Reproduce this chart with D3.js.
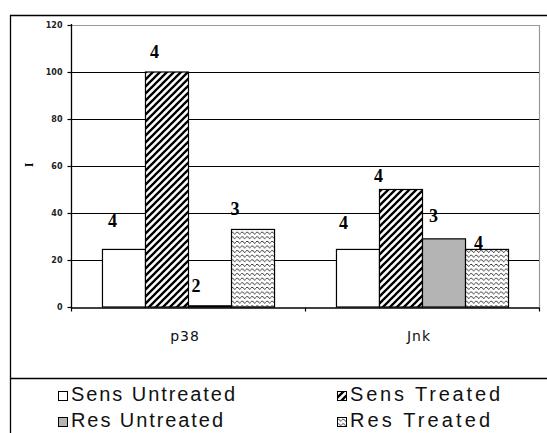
<!DOCTYPE html>
<html><head><meta charset="utf-8">
<script src="https://cdn.jsdelivr.net/npm/d3@7"></script>
<style>
html,body{margin:0;padding:0;background:#fff;}
svg{display:block;}
</style></head>
<body>
<svg id="chart" width="547" height="433"></svg>
<script>
// ---- data ----
const categories = ["p38", "Jnk"];
const seriesNames = ["Sens Untreated", "Sens Treated", "Res Untreated", "Res Treated"];
const sensUntreated = [24.5, 24.5];
const sensTreated = [100, 50];
const resUntreated = [0.5, 29];
const resTreated = [33, 24.5];
const nSensUntreated = [4, 4];
const nSensTreated = [4, 4];
const nResUntreated = [2, 3];
const nResTreated = [3, 4];
const yTicks = [0, 20, 40, 60, 80, 100, 120];
const yTitle = "I";

// label nudges (dx from bar centre, dy baseline from bar top), hand-placed in original
const labelNudge = [
  [[-11, -22], [-12, -14], [-13.5, -14], [-17.5, -14]],
  [[-14, -20], [-22, -8], [-10, -16.5], [-8, 0]]
];
// legend layout (style only)
const legendPos = [[58, 391], [337, 391], [58, 417], [337, 417]];
const legendTextWidth = [164, 150, 152, 140];

const values = [sensUntreated, sensTreated, resUntreated, resTreated];
const counts = [nSensUntreated, nSensTreated, nResUntreated, nResTreated];

const svg = d3.select("#chart");
const defs = svg.append("defs");

// diagonal hatch
const hatch = defs.append("pattern").attr("id", "hatch")
  .attr("patternUnits", "userSpaceOnUse").attr("width", 7).attr("height", 7);
hatch.append("rect").attr("width", 7).attr("height", 7).attr("fill", "#fff");
hatch.append("path").attr("d", "M-1,1 L1,-1 M0,7 L7,0 M6,8 L8,6")
  .attr("stroke", "#000").attr("stroke-width", 2.3);

// wave pattern
const wave = defs.append("pattern").attr("id", "wave")
  .attr("patternUnits", "userSpaceOnUse").attr("width", 5).attr("height", 4.6);
wave.append("rect").attr("width", 5).attr("height", 4.6).attr("fill", "#fff");
wave.append("path").attr("d", "M0,3 Q1.25,0.6 2.5,3 T5,3")
  .attr("fill", "none").attr("stroke", "#000").attr("stroke-width", 0.9);

const fills = ["#ffffff", "url(#hatch)", "#b4b4b4", "url(#wave)"];

// scales
const plot = {left: 71, right: 539, top: 25, bottom: 307};
const x0 = d3.scaleBand().domain(categories).range([plot.left, plot.right]).padding(0);
const x1 = d3.scaleBand().domain(seriesNames).range([0, x0.bandwidth()]).paddingInner(0).paddingOuter(0.72);
const y = d3.scaleLinear().domain([0, 120]).range([plot.bottom, plot.top]);

// outer frame
svg.append("line").attr("x1", 10).attr("x2", 547).attr("y1", 15.5).attr("y2", 15.5)
  .attr("stroke", "#000").attr("stroke-width", 1.3);
svg.append("line").attr("x1", 10.5).attr("x2", 10.5).attr("y1", 15).attr("y2", 433)
  .attr("stroke", "#000").attr("stroke-width", 1.3);
svg.append("line").attr("x1", 10).attr("x2", 547).attr("y1", 378.5).attr("y2", 378.5)
  .attr("stroke", "#000").attr("stroke-width", 1.3);

// plot border top/right (gray)
svg.append("path")
  .attr("d", `M${plot.left},${y(120) + 0.5} H${plot.right + 0.5} V${plot.bottom}`)
  .attr("fill", "none").attr("stroke", "#999").attr("stroke-width", 1.2);

// gridlines
svg.append("g").selectAll("line").data(yTicks.filter(t => t > 0 && t < 120)).join("line")
  .attr("x1", plot.left).attr("x2", plot.right)
  .attr("y1", d => Math.round(y(d)) + 0.5).attr("y2", d => Math.round(y(d)) + 0.5)
  .attr("stroke", "#000").attr("stroke-width", 1.2);

// y axis
const yAxis = d3.axisLeft(y).tickValues(yTicks).tickSize(4).tickPadding(5);
const gy = svg.append("g").attr("transform", `translate(${plot.left + 0.5},0)`).call(yAxis);
gy.select(".domain").attr("stroke", "#000").attr("stroke-width", 1.3)
  .attr("d", `M0,${plot.top - 1} V${plot.bottom + 1}`);
gy.selectAll(".tick line").attr("stroke", "#000").attr("stroke-width", 1.2);
gy.selectAll(".tick text").attr("font-family", "DejaVu Sans").attr("font-weight", "bold")
  .attr("font-size", 8).attr("fill", "#222");

// y title
svg.append("text").text(yTitle)
  .attr("transform", "translate(33,165) rotate(-90)")
  .attr("text-anchor", "middle")
  .attr("font-family", "Liberation Serif").attr("font-weight", "bold").attr("font-size", 12);

// bars
const groups = svg.append("g").selectAll("g").data(categories).join("g")
  .attr("transform", d => `translate(${x0(d)},0)`);
groups.selectAll("rect").data((c, ci) => seriesNames.map((s, si) => ({s, si, ci, v: values[si][ci]})))
  .join("rect")
  .attr("x", d => x1(d.s) + 0.5)
  .attr("width", x1.bandwidth())
  .attr("y", d => y(d.v))
  .attr("height", d => y(0) - y(d.v))
  .attr("fill", d => fills[d.si])
  .attr("stroke", "#000").attr("stroke-width", 1.2);

// count labels
groups.selectAll("text.n").data((c, ci) => seriesNames.map((s, si) => ({s, si, ci, v: values[si][ci], n: counts[si][ci]})))
  .join("text").attr("class", "n")
  .attr("x", d => x1(d.s) + x1.bandwidth() / 2 + labelNudge[d.ci][d.si][0])
  .attr("y", d => y(d.v) + labelNudge[d.ci][d.si][1])
  .attr("text-anchor", "middle")
  .attr("font-family", "Liberation Serif").attr("font-weight", "bold").attr("font-size", 18)
  .text(d => d.n);

// x axis
const xAxis = d3.axisBottom(x0).tickSize(0).tickPadding(24);
const gx = svg.append("g").attr("transform", `translate(0,${plot.bottom + 0.5})`).call(xAxis);
gx.select(".domain").attr("stroke", "#000").attr("stroke-width", 1.3);
gx.selectAll(".tick text").attr("font-family", "DejaVu Sans").attr("font-size", 14)
  .attr("letter-spacing", 1).attr("fill", "#111").attr("dx", -3);
// category boundary ticks
gx.append("g").selectAll("line").data([plot.left, x0("Jnk"), plot.right]).join("line")
  .attr("x1", d => d + 0.5).attr("x2", d => d + 0.5).attr("y1", 0).attr("y2", 4)
  .attr("stroke", "#000").attr("stroke-width", 1.2);

// legend
const leg = svg.append("g").selectAll("g").data(seriesNames).join("g")
  .attr("transform", (d, i) => `translate(${legendPos[i][0]},${legendPos[i][1]})`);
leg.append("rect").attr("x", 0.5).attr("y", 0.5).attr("width", 9).attr("height", 9)
  .attr("fill", (d, i) => fills[i]).attr("stroke", "#000").attr("stroke-width", 1);
leg.append("text").attr("x", 13).attr("y", 9.5)
  .attr("font-family", "Liberation Sans").attr("font-size", 20)
  .attr("textLength", (d, i) => legendTextWidth[i]).attr("lengthAdjust", "spacing")
  .attr("fill", "#111").text(d => d);
</script>
</body></html>
